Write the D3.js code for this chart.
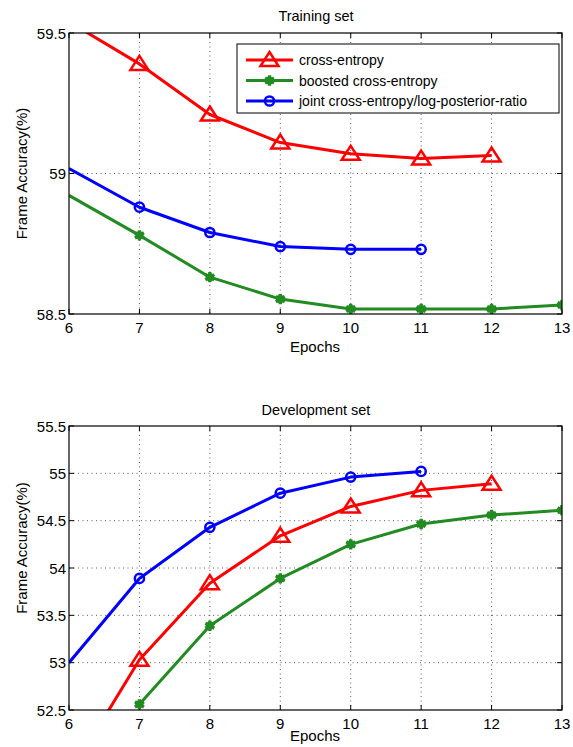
<!DOCTYPE html>
<html lang="en">
<head>
    <meta charset="UTF-8">
    <title>Frame accuracy vs epochs</title>
    <script src="https://d3js.org/d3.v7.min.js"></script>
    <style>
        body { margin: 0; background: #fff; }
        svg { display: block; font-family: "Liberation Sans", Arial, Helvetica, sans-serif; }
        .grid line { stroke: #333; stroke-width: 0.8; stroke-dasharray: 1,3.5; }
        .tick-label { font-size: 15px; fill: #000; }
        .axis-label { font-size: 15px; text-anchor: middle; }
        .chart-title { font-size: 14.5px; text-anchor: middle; }
        .legend-text { font-size: 14px; }
    </style>
</head>
<body>
<div id="chart"></div>
<script>
    // data (null = no value for that epoch)
    const epochs = [6, 7, 8, 9, 10, 11, 12, 13];
    const seriesNames = ["cross-entropy", "boosted cross-entropy", "joint cross-entropy/log-posterior-ratio"];

    const trainCE      = [59.54, 59.39, 59.21, 59.11, 59.07, 59.053, 59.064, null];
    const trainBoosted = [58.922, 58.78, 58.631, 58.553, 58.518, 58.518, 58.518, 58.532];
    const trainJoint   = [59.018, 58.88, 58.79, 58.74, 58.73, 58.73, null, null];

    const devCE      = [51.81, 53.03, 53.84, 54.34, 54.65, 54.82, 54.89, null];
    const devBoosted = [null, 52.56, 53.39, 53.89, 54.25, 54.465, 54.56, 54.61];
    const devJoint   = [53.0, 53.89, 54.43, 54.79, 54.96, 55.02, null, null];

    const trainTicks = [58.5, 59, 59.5];
    const devTicks = [52.5, 53, 53.5, 54, 54.5, 55, 55.5];

    const colors = ["#ff0000", "#228b22", "#0000ff"];
    const markers = ["triangle", "asterisk", "circle"];

    const svg = d3.select("#chart").append("svg")
        .attr("width", 573)
        .attr("height", 747);

    const x0 = 69, x1 = 562;

    function drawMarker(g, type, color, cx, cy) {
        if (type === "triangle") {
            g.append("path")
                .attr("d", `M${cx},${cy - 8} L${cx + 9},${cy + 6} L${cx - 9},${cy + 6} Z`)
                .attr("fill", "none").attr("stroke", color).attr("stroke-width", 2.5)
                .attr("stroke-linejoin", "miter");
        } else if (type === "circle") {
            g.append("circle").attr("cx", cx).attr("cy", cy).attr("r", 4.6)
                .attr("fill", "none").attr("stroke", color).attr("stroke-width", 2.5);
        } else {
            g.append("path")
                .attr("d", d3.symbol(d3.symbolAsterisk, 75)())
                .attr("transform", `translate(${cx},${cy})`)
                .attr("fill", "none").attr("stroke", color).attr("stroke-width", 3.4);
            g.append("circle").attr("cx", cx).attr("cy", cy).attr("r", 4)
                .attr("fill", color);
        }
    }

    function createPanel(opts) {
        const { id, top, bottom, domain, ticks, series, title, titleY, xLabelY, yLabelY, legend } = opts;

        const x = d3.scaleLinear().domain([6, 13]).range([x0, x1]);
        const y = d3.scaleLinear().domain(domain).range([bottom, top]);

        const g = svg.append("g");

        svg.append("clipPath").attr("id", id)
            .append("rect").attr("x", x0).attr("y", top)
            .attr("width", x1 - x0).attr("height", bottom - top);

        // grid
        const grid = g.append("g").attr("class", "grid");
        grid.selectAll(".vx").data(epochs.slice(1, -1)).enter().append("line")
            .attr("x1", d => x(d)).attr("x2", d => x(d))
            .attr("y1", top).attr("y2", bottom);
        grid.selectAll(".hy").data(ticks.slice(1, -1)).enter().append("line")
            .attr("x1", x0).attr("x2", x1)
            .attr("y1", d => y(d)).attr("y2", d => y(d));

        // inward ticks on all sides
        const tk = g.append("g").attr("stroke", "#000").attr("stroke-width", 1);
        epochs.forEach(e => {
            tk.append("line").attr("x1", x(e)).attr("x2", x(e)).attr("y1", bottom).attr("y2", bottom - 5);
            tk.append("line").attr("x1", x(e)).attr("x2", x(e)).attr("y1", top).attr("y2", top + 5);
        });
        ticks.forEach(t => {
            tk.append("line").attr("x1", x0).attr("x2", x0 + 5).attr("y1", y(t)).attr("y2", y(t));
            tk.append("line").attr("x1", x1).attr("x2", x1 - 5).attr("y1", y(t)).attr("y2", y(t));
        });

        // tick labels
        g.selectAll(".xl").data(epochs).enter().append("text")
            .attr("class", "tick-label")
            .attr("x", d => x(d)).attr("y", bottom + 19)
            .attr("text-anchor", "middle")
            .text(d => d);
        g.selectAll(".yl").data(ticks).enter().append("text")
            .attr("class", "tick-label")
            .attr("x", x0 - 3).attr("y", d => y(d) + 5.5)
            .attr("text-anchor", "end")
            .text(d => d);

        // series
        const plot = g.append("g").attr("clip-path", `url(#${id})`);
        series.forEach((vals, i) => {
            const pts = epochs.map((e, k) => [e, vals[k]]).filter(p => p[1] !== null);
            plot.append("path")
                .datum(pts)
                .attr("fill", "none")
                .attr("stroke", colors[i])
                .attr("stroke-width", 3)
                .attr("stroke-linejoin", "round")
                .attr("d", d3.line().x(d => x(d[0])).y(d => y(d[1])));
            // first epoch sits on the left frame, reference shows no marker there
            pts.filter(p => p[0] > 6)
                .forEach(p => drawMarker(plot, markers[i], colors[i], x(p[0]), y(p[1])));
        });

        // frame
        g.append("rect").attr("x", x0).attr("y", top)
            .attr("width", x1 - x0).attr("height", bottom - top)
            .attr("fill", "none").attr("stroke", "#000").attr("stroke-width", 1.2);

        // labels
        g.append("text").attr("class", "chart-title")
            .attr("x", 316).attr("y", titleY).text(title);
        g.append("text").attr("class", "axis-label")
            .attr("x", 315).attr("y", xLabelY).text("Epochs");
        g.append("text").attr("class", "axis-label")
            .attr("transform", `translate(27,${yLabelY}) rotate(-90)`)
            .text("Frame Accuracy(%)");

        if (legend) {
            const lg = g.append("g");
            lg.append("rect").attr("x", 237).attr("y", 44).attr("width", 322).attr("height", 69)
                .attr("fill", "#fff").attr("stroke", "#000").attr("stroke-width", 1);
            seriesNames.forEach((name, i) => {
                const ly = 60 + i * 20.5;
                lg.append("line").attr("x1", 246).attr("x2", 293).attr("y1", ly).attr("y2", ly)
                    .attr("stroke", colors[i]).attr("stroke-width", 3);
                drawMarker(lg, markers[i], colors[i], 269.5, ly);
                lg.append("text").attr("class", "legend-text")
                    .attr("x", 299).attr("y", ly + 5).text(name);
            });
        }
    }

    createPanel({
        id: "clipTrain", top: 33, bottom: 314, domain: [58.5, 59.5], ticks: trainTicks,
        series: [trainCE, trainBoosted, trainJoint], title: "Training set",
        titleY: 21, xLabelY: 352, yLabelY: 173.5, legend: true
    });

    createPanel({
        id: "clipDev", top: 426, bottom: 710, domain: [52.5, 55.5], ticks: devTicks,
        series: [devCE, devBoosted, devJoint], title: "Development set",
        titleY: 415, xLabelY: 741, yLabelY: 548, legend: false
    });
</script>
</body>
</html>
